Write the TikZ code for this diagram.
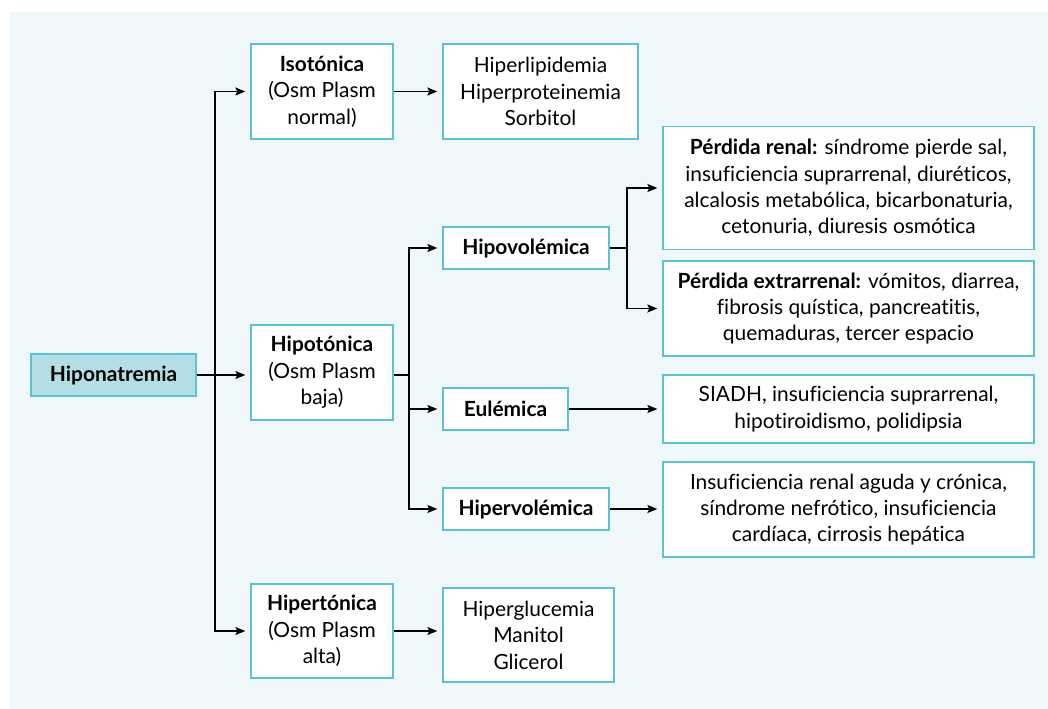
\documentclass[tikz,border=0pt]{standalone}
\usepackage{fontspec}
\setmainfont{Lato}[Ligatures=NoCommon]
\usetikzlibrary{arrows.meta}
\definecolor{bgc}{HTML}{F0F7FA}
\definecolor{bord}{HTML}{5BC3CF}
\definecolor{hfill}{HTML}{B3DEE5}
\tikzset{
  x=1bp,y=-1bp,
  box/.style={draw=bord,line width=1.3bp,fill=white,align=center,inner sep=0pt,
    font=\fontsize{21}{26.5}\selectfont,text=black},
  arr/.style={-{Stealth[length=10bp,width=8bp,inset=2bp]},line width=1.4bp,shorten >=5bp},
  ln/.style={line width=1.4bp}
}
\begin{document}
\begin{tikzpicture}
\useasboundingbox (0,0) rectangle (1048,709);
\fill[white] (0,0) rectangle (1048,709);
\fill[bgc] (10,12) rectangle (1048,709);
\node[box,fill=hfill,minimum width=165bp,minimum height=42bp] (hipona) at (113.5,375) {\textbf{Hiponatremia}};
\node[box,minimum width=142bp,minimum height=95bp] (iso) at (322,91.5) {\textbf{Isotónica}\\(Osm Plasm\\normal)};
\node[box,minimum width=195bp,minimum height=95bp] (hlip) at (540.5,91.5) {Hiperlipidemia\\Hiperproteinemia\\Sorbitol};
\node[box,minimum width=142bp,minimum height=95bp] (hipot) at (322,372.5) {\textbf{Hipotónica}\\(Osm Plasm\\baja)};
\node[box,minimum width=142bp,minimum height=94bp] (hiper) at (322,631) {\textbf{Hipertónica}\\(Osm Plasm\\alta)};
\node[box,minimum width=171bp,minimum height=94bp] (hglu) at (528.5,635) {Hiperglucemia\\Manitol\\Glicerol};
\node[box,minimum width=166bp,minimum height=42bp] (hvol) at (526,248) {\textbf{Hipovolémica}};
\node[box,minimum width=125bp,minimum height=42bp] (eul) at (505.5,409) {\textbf{Eulémica}};
\node[box,minimum width=166bp,minimum height=42bp] (hperv) at (526,509) {\textbf{Hipervolémica}};
\node[box,minimum width=371bp,minimum height=123bp] (renal) at (848.5,188) {\textbf{Pérdida renal:} síndrome pierde sal,\\insuficiencia suprarrenal, diuréticos,\\alcalosis metabólica, bicarbonaturia,\\cetonuria, diuresis osmótica};
\node[box,minimum width=371bp,minimum height=95bp] (extra) at (848.5,308.5) {\textbf{Pérdida extrarrenal:} vómitos, diarrea,\\fibrosis quística, pancreatitis,\\quemaduras, tercer espacio};
\node[box,minimum width=371bp,minimum height=68bp] (siadh) at (848.5,409) {SIADH, insuficiencia suprarrenal,\\hipotiroidismo, polidipsia};
\node[box,minimum width=371bp,minimum height=95bp] (irenal) at (848.5,509.5) {Insuficiencia renal aguda y crónica,\\síndrome nefrótico, insuficiencia\\cardíaca, cirrosis hepática};
% trunk 1
\coordinate (t1) at (215,375);
\draw[arr] (hipona.east) -- (hipot.west |- hipona.east);
\draw[arr] (t1) |- (iso.west);
\draw[arr] (t1) |- (hiper.west);
\draw[arr] (iso.east) -- (hlip.west |- iso.east);
\draw[arr] (hiper.east) -- (hglu.west |- hiper.east);
% trunk 2
\coordinate (t2) at (409,375);
\draw[ln] (hipot.east |- t2) -- (t2);
\draw[arr] (t2) |- (hvol.west);
\draw[arr] (t2) |- (eul.west);
\draw[arr] (t2) |- (hperv.west);
\draw[arr] (eul.east) -- (siadh.west |- eul.east);
\draw[arr] (hperv.east) -- (irenal.west |- hperv.east);
% trunk 3
\coordinate (t3) at (627,248);
\draw[ln] (hvol.east) -- (t3);
\draw[arr] (t3) |- (renal.west);
\draw[arr] (t3) |- (extra.west);
\end{tikzpicture}
\end{document}
